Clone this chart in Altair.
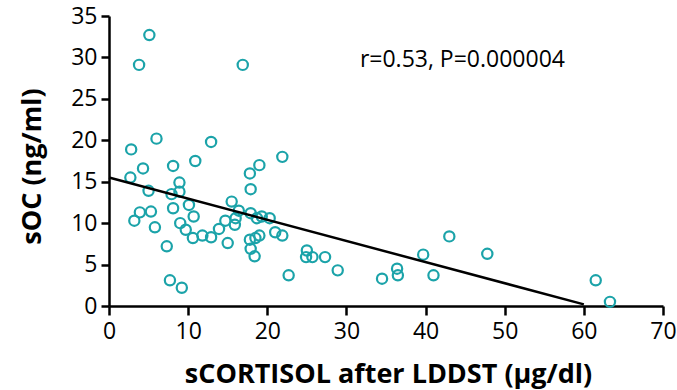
import altair as alt
import pandas as pd

# Data
cortisol = [5.1, 3.8, 16.9, 2.8, 6.0, 12.9, 4.3, 8.1, 10.9, 21.9,
            2.7, 17.8, 19.0, 17.9, 5.0, 8.9, 7.9, 8.9, 8.1, 10.1,
            15.5, 3.9, 5.3, 3.2, 10.7, 16.4, 16.0, 15.9, 14.7, 17.9,
            18.7, 19.3, 20.3, 5.8, 9.0, 9.7, 10.6, 11.8, 12.9, 13.9,
            15.0, 7.3, 17.8, 18.5, 19.0, 17.9, 18.4, 21.0, 21.9, 7.7,
            9.2, 22.7, 25.0, 24.9, 25.7, 27.3, 28.9, 34.5, 36.4, 36.5,
            39.7, 41.0, 43.0, 47.8, 61.5, 63.3]
soc = [32.7, 29.1, 29.1, 18.9, 20.2, 19.8, 16.6, 16.9, 17.5, 18.0,
       15.5, 16.0, 17.0, 14.1, 13.9, 14.9, 13.5, 13.8, 11.8, 12.2,
       12.6, 11.3, 11.4, 10.3, 10.8, 11.5, 10.6, 9.8, 10.3, 11.2,
       10.6, 10.8, 10.6, 9.5, 10.0, 9.2, 8.2, 8.5, 8.3, 9.3,
       7.6, 7.2, 8.0, 8.2, 8.5, 6.9, 6.0, 8.9, 8.5, 3.1,
       2.2, 3.7, 6.7, 5.9, 5.9, 5.9, 4.3, 3.3, 4.5, 3.7,
       6.2, 3.7, 8.4, 6.3, 3.1, 0.5]

fit_x = [0, 60]
fit_y = [15.5, 0.2]

x_ticks = [0, 10, 20, 30, 40, 50, 60, 70]
y_ticks = [0, 5, 10, 15, 20, 25, 30, 35]

annotation = ["r=0.53, P=0.000004"]
annotation_x = [31.7]
annotation_y = [28.8]

pts = pd.DataFrame({"x": cortisol, "y": soc})
fit = pd.DataFrame({"x": fit_x, "y": fit_y})
ann = pd.DataFrame({"t": annotation, "x": annotation_x, "y": annotation_y})

FONT = "Open Sans"
TEAL = "#1BA3A9"

xscale = alt.Scale(domain=[0, 70], nice=False, zero=False)
yscale = alt.Scale(domain=[0, 35], nice=False, zero=False)

xaxis = alt.Axis(
    title="sCORTISOL after LDDST (µg/dl)", values=x_ticks, grid=False,
    domainColor="black", domainWidth=2.5, tickColor="black", tickWidth=2.5,
    tickSize=9, labelFont=FONT, labelFontSize=23, labelColor="black",
    labelPadding=5, titleFont=FONT, titleFontSize=27, titleFontWeight="bold",
    titleColor="black", titleBaseline="alphabetic", titleX=279, titleY=76,
    titleAlign="center", labelFlush=False,
)
yaxis = alt.Axis(
    title="sOC (ng/ml)", values=y_ticks, grid=False,
    domainColor="black", domainWidth=2.5, tickColor="black", tickWidth=2.5,
    tickSize=8, labelFont=FONT, labelFontSize=23, labelColor="black",
    labelPadding=4, titleFont=FONT, titleFontSize=27, titleFontWeight="bold",
    titleColor="black", titleBaseline="alphabetic", titleX=-69, titleY=150,
    titleAlign="center", titleAngle=270, labelFlush=False,
)

points = alt.Chart(pts).mark_point(
    shape="circle", filled=False, size=105, strokeWidth=2.2, color=TEAL, opacity=1
).encode(
    x=alt.X("x:Q", scale=xscale, axis=xaxis),
    y=alt.Y("y:Q", scale=yscale, axis=yaxis),
)

line = alt.Chart(fit).mark_line(color="black", strokeWidth=2.5).encode(
    x=alt.X("x:Q", scale=xscale),
    y=alt.Y("y:Q", scale=yscale),
)

text = alt.Chart(ann).mark_text(
    font=FONT, fontSize=23, align="left", baseline="alphabetic", color="black"
).encode(
    x=alt.X("x:Q", scale=xscale),
    y=alt.Y("y:Q", scale=yscale),
    text="t:N",
)

chart = alt.layer(points, line, text).properties(
    width=554, height=290,
    padding={"left": 109, "top": 16, "right": 14, "bottom": 84},
    autosize=alt.AutoSizeParams(type="none"),
    background="white",
).configure_view(stroke=None)

chart.save("out.html", embed_options={"renderer": "svg", "actions": False})
